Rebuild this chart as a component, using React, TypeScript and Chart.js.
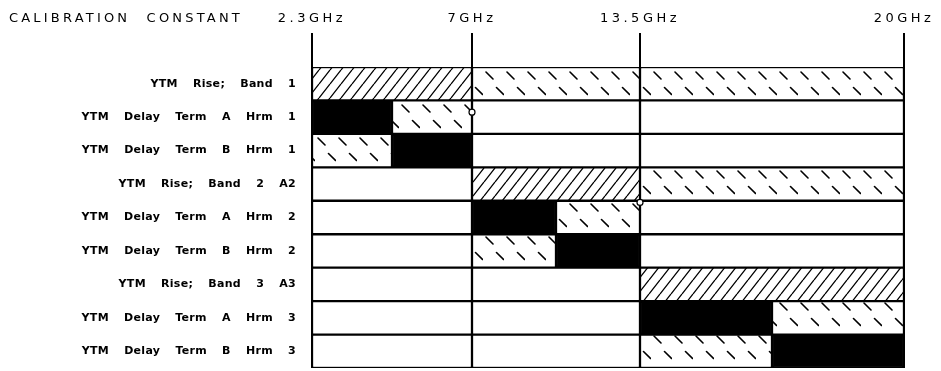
import React, { useEffect, useRef } from 'react';
import { Chart, registerables } from 'chart.js';

Chart.register(...registerables);

// ---------------- data ----------------
const rowLabels = [
  'YTM Rise; Band 1',
  'YTM Delay Term A Hrm 1',
  'YTM Delay Term B Hrm 1',
  'YTM Rise; Band 2 A2',
  'YTM Delay Term A Hrm 2',
  'YTM Delay Term B Hrm 2',
  'YTM Rise; Band 3 A3',
  'YTM Delay Term A Hrm 3',
  'YTM Delay Term B Hrm 3',
];

const titleText = 'CALIBRATION CONSTANT';

// band edges (GHz) and their labels
const bandEdgesGHz = [2.3, 7, 13.5, 20];
const bandEdgeLabels = ['2.3GHz', '7GHz', '13.5GHz', '20GHz'];

// segments: [rowIndex, startGHz, endGHz]
const riseSegments = [
  [0, 2.3, 7],
  [3, 7, 13.5],
  [6, 13.5, 20],
];
const delayHatchSegments = [
  [0, 7, 13.5],
  [0, 13.5, 20],
  [1, 4.65, 7],
  [2, 2.3, 4.65],
  [3, 13.5, 20],
  [4, 10.25, 13.5],
  [5, 7, 10.25],
  [7, 16.75, 20],
  [8, 13.5, 16.75],
];
const solidSegments = [
  [1, 2.3, 4.65],
  [2, 4.65, 7],
  [4, 7, 10.25],
  [5, 10.25, 13.5],
  [7, 13.5, 16.75],
  [8, 16.75, 20],
];

// end markers of the rise ranges: [band, GHz, row boundary (rows from top)]
const riseEndMarkers = [
  [1, 7, 1],
  [2, 13.5, 4],
];

// drawn (schematic) widths of the three bands
const bandDrawWeights = [160, 168, 264];

// ---------------- helpers ----------------
function bandData(segs: number[][], b: number) {
  const lo = bandEdgesGHz[b];
  const hi = bandEdgesGHz[b + 1];
  const arr: (number[] | null)[] = rowLabels.map(() => null);
  segs.forEach(([r, s, e]) => {
    if (s >= lo && e <= hi) arr[r] = [s, e];
  });
  return arr;
}

function cellData(b: number) {
  return rowLabels.map(() => [bandEdgesGHz[b], bandEdgesGHz[b + 1]]);
}

function makeRisePattern(ctx: CanvasRenderingContext2D) {
  const w = 11;
  const h = 14;
  const c = document.createElement('canvas');
  c.width = w;
  c.height = h;
  const g = c.getContext('2d')!;
  g.fillStyle = '#fff';
  g.fillRect(0, 0, w, h);
  g.strokeStyle = '#000';
  g.lineWidth = 1.3;
  g.beginPath();
  for (let k = -1; k <= 1; k++) {
    g.moveTo(k * w, h);
    g.lineTo(k * w + w, 0);
  }
  g.stroke();
  return ctx.createPattern(c, 'repeat')!;
}

function makeDashPattern(ctx: CanvasRenderingContext2D) {
  const w = 21;
  const h = 33;
  const c = document.createElement('canvas');
  c.width = w;
  c.height = h;
  const g = c.getContext('2d')!;
  g.fillStyle = '#fff';
  g.fillRect(0, 0, w, h);
  g.strokeStyle = '#000';
  g.lineWidth = 1.6;
  g.lineCap = 'round';
  g.beginPath();
  g.moveTo(3, 5);
  g.lineTo(10, 12);
  g.moveTo(13.5, 20.5);
  g.lineTo(20.5, 27.5);
  g.stroke();
  const p = ctx.createPattern(c, 'repeat')!;
  try {
    p.setTransform(new DOMMatrix().translate(0, 67));
  } catch (e) {}
  return p;
}

const bandTicks = [[2.3], [7], [13.5, 20]];

export default function App() {
  const ref = useRef<HTMLCanvasElement>(null);

  useEffect(() => {
    const canvas = ref.current!;
    const ctx = canvas.getContext('2d')!;
    const rise = makeRisePattern(ctx);
    const dash = makeDashPattern(ctx);

    const datasets: any[] = [];
    for (let b = 0; b < 3; b++) {
      const xAxisID = 'x' + (b + 1);
      datasets.push({
        label: 'cell' + b,
        data: cellData(b),
        xAxisID,
        yAxisID: 'y',
        backgroundColor: '#fff',
        borderColor: '#000',
        borderWidth: 1.5,
        borderSkipped: false,
        order: 2,
      });
      datasets.push({
        label: 'rise' + b,
        data: bandData(riseSegments, b),
        xAxisID,
        yAxisID: 'y',
        backgroundColor: rise,
        borderColor: '#000',
        borderWidth: 1.5,
        borderSkipped: false,
        order: 1,
      });
      datasets.push({
        label: 'delay' + b,
        data: bandData(delayHatchSegments, b),
        xAxisID,
        yAxisID: 'y',
        backgroundColor: dash,
        borderColor: '#000',
        borderWidth: 1.5,
        borderSkipped: false,
        order: 1,
      });
      datasets.push({
        label: 'solid' + b,
        data: bandData(solidSegments, b),
        xAxisID,
        yAxisID: 'y',
        backgroundColor: '#000',
        borderColor: '#000',
        borderWidth: 1.5,
        borderSkipped: false,
        order: 1,
      });
    }
    riseEndMarkers.forEach(([b, ghz, boundary], i) => {
      datasets.push({
        type: 'scatter',
        label: 'marker' + i,
        data: [{ x: ghz, y: boundary }],
        xAxisID: 'x' + (b + 1),
        yAxisID: 'yRows',
        indexAxis: 'x',
        pointStyle: 'circle',
        pointRadius: 3,
        backgroundColor: '#fff',
        borderColor: '#000',
        borderWidth: 1.2,
        clip: false,
        order: 0,
      });
    });

    const xScale = (b: number) => ({
      type: 'linear',
      axis: 'x',
      position: 'top',
      stack: 'freq',
      stackWeight: bandDrawWeights[b],
      weight: 3 - b,
      min: bandEdgesGHz[b],
      max: bandEdgesGHz[b + 1],
      bounds: 'data',
      beginAtZero: false,
      afterBuildTicks: (s: any) => {
        s.ticks = bandTicks[b].map((v) => ({ value: v }));
      },
      afterFit: (s: any) => {
        s.height = 67;
        s.paddingLeft = 0;
        s.paddingRight = 0;
      },
      ticks: {
        z: 1,
        autoSkip: false,
        maxRotation: 0,
        minRotation: 0,
        padding: 7,
        color: '#000',
        font: { family: '"DejaVu Sans"', size: 13 },
        callback: (v: number) => bandEdgeLabels[bandEdgesGHz.indexOf(v)] ?? '',
      },
      grid: {
        display: true,
        drawOnChartArea: true,
        drawTicks: true,
        tickLength: 34,
        lineWidth: 2,
        color: '#000',
      },
      border: { display: false },
    });

    const spacingPlugin = {
      id: 'spacing',
      beforeDraw(chart: any) {
        const c = chart.ctx as any;
        c.letterSpacing = '0.3px';
        c.wordSpacing = '11px';
      },
      afterDatasetsDraw(chart: any) {
        const c = chart.ctx as any;
        c.letterSpacing = '3.5px';
        c.wordSpacing = '0px';
      },
      afterDraw(chart: any) {
        const c = chart.ctx as any;
        c.save();
        c.letterSpacing = '3.2px';
        c.wordSpacing = '9px';
        c.font = '13px "DejaVu Sans"';
        c.fillStyle = '#000';
        c.textAlign = 'left';
        c.textBaseline = 'alphabetic';
        c.fillText(titleText, 9, 22);
        c.restore();
        c.letterSpacing = '0px';
        c.wordSpacing = '0px';
      },
    };

    const chart = new Chart(ctx, {
      type: 'bar',
      data: { labels: rowLabels, datasets },
      options: {
        indexAxis: 'y',
        responsive: false,
        animation: false,
        devicePixelRatio: 1,
        layout: { autoPadding: false, padding: { top: 0, left: 0, right: 37, bottom: 3 } },
        datasets: {
          bar: {
            barPercentage: 1,
            categoryPercentage: 1,
            grouped: false,
          },
        },
        plugins: {
          legend: { display: false },
          tooltip: { enabled: false },
          title: { display: false },
        },
        scales: {
          x1: xScale(0),
          x2: xScale(1),
          x3: xScale(2),
          y: {
            type: 'category',
            position: 'left',
            afterFit: (s: any) => {
              s.width = 312;
              s.paddingTop = 0;
              s.paddingBottom = 0;
            },
            grid: { display: false },
            border: { display: false },
            ticks: {
              z: 0,
              padding: 8,
              color: '#000',
              autoSkip: false,
              font: { family: '"DejaVu Sans"', size: 11, weight: 'bold' },
            },
          },
          yRows: {
            type: 'linear',
            axis: 'y',
            position: 'left',
            display: false,
            reverse: true,
            min: 0,
            max: rowLabels.length,
            afterFit: (s: any) => {
              s.width = 0;
              s.paddingTop = 0;
              s.paddingBottom = 0;
              s.paddingLeft = 0;
              s.paddingRight = 0;
            },
          },
        } as any,
      },
      plugins: [spacingPlugin],
    } as any);

    return () => chart.destroy();
  }, []);

  return (
    <div style={{ position: 'absolute', left: 0, top: 0, width: 941, height: 371, background: '#fff' }}>
      <canvas ref={ref} width={941} height={371} style={{ display: 'block', width: 941, height: 371 }} />
    </div>
  );
}
